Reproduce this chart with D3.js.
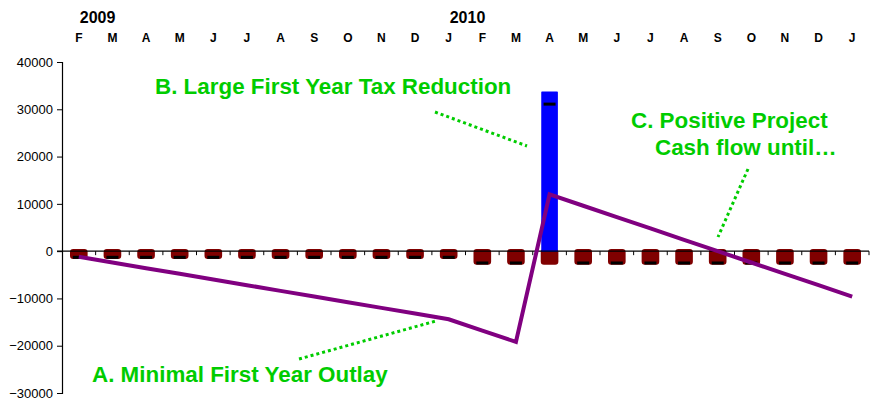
<!DOCTYPE html>
<html>
<head>
<meta charset="utf-8">
<script src="https://cdn.jsdelivr.net/npm/d3@7"></script>
<style>
  html, body { margin: 0; padding: 0; background: #fff; }
  svg { display: block; font-family: "Liberation Sans", Arial, sans-serif; }
</style>
</head>
<body>
<svg id="chart" width="877" height="402"></svg>
<script>
// ---- data ----
const months = ["F","M","A","M","J","J","A","S","O","N","D","J","F","M","A","M","J","J","A","S","O","N","D","J"];
const yearLabels = ["2009", "2010"];
const yearStartIndex = [0, 11];
const monthlyCost = [-1200,-1200,-1200,-1200,-1200,-1200,-1200,-1200,-1200,-1200,-1200,-1200,
                     -2400,-2400,-2400,-2400,-2400,-2400,-2400,-2400,-2400,-2400,-2400,-2400];
const taxReduction = [0,0,0,0,0,0,0,0,0,0,0,0,0,0,33600,0,0,0,0,0,0,0,0,0];
const netCashFlow = [-1200,-1200,-1200,-1200,-1200,-1200,-1200,-1200,-1200,-1200,-1200,-1200,
                     -2400,-2400,31200,-2400,-2400,-2400,-2400,-2400,-2400,-2400,-2400,-2400];
const cumulative = [-1200,-2400,-3600,-4800,-6000,-7200,-8400,-9600,-10800,-12000,-13200,-14400,
                    -16800,-19200,12000,9600,7200,4800,2400,0,-2400,-4800,-7200,-9600];
const yTicks = [40000,30000,20000,10000,0,-10000,-20000,-30000];

(function () {
// ---- layout ----
const svg = d3.select("#chart");
const mLeft = 62, mRight = 869, mTop = 62, mBottom = 393;
const idx = d3.range(months.length);
const x = d3.scaleBand().domain(idx).range([mLeft, mRight]).paddingInner(0).paddingOuter(0);
const y = d3.scaleLinear().domain([-30000, 40000]).range([mBottom, mTop]);
const bw = x.bandwidth() * 0.45;
const cx = i => x(i) + x.bandwidth() / 2;

// red cost bars
svg.append("g").selectAll("rect").data(idx).join("rect")
  .attr("x", i => cx(i) - bw / 2)
  .attr("y", i => y(0) - 1)
  .attr("width", bw)
  .attr("height", i => y(monthlyCost[i]) - y(0) + 2)
  .attr("rx", 2)
  .attr("fill", "#800000")
  .attr("stroke", "#800000")
  .attr("stroke-width", 2.5)
  .attr("stroke-linejoin", "round");

// blue tax reduction bars
svg.append("g").selectAll("rect").data(idx.filter(i => taxReduction[i] > 0)).join("rect")
  .attr("x", i => cx(i) - bw / 2)
  .attr("y", i => y(taxReduction[i]))
  .attr("width", bw)
  .attr("height", i => y(0) - y(taxReduction[i]))
  .attr("fill", "#0000ff")
  .attr("stroke", "#0000ff")
  .attr("stroke-width", 1.5)
  .attr("stroke-linejoin", "round");

// x axis (zero line) with ticks between categories
const axisG = svg.append("g");
axisG.append("line")
  .attr("x1", mLeft - 5).attr("x2", mRight)
  .attr("y1", y(0)).attr("y2", y(0))
  .attr("stroke", "#000").attr("stroke-width", 1.2);
axisG.selectAll("line.tk").data(d3.range(1, months.length + 1)).join("line")
  .attr("class", "tk")
  .attr("x1", i => x.step() * i + mLeft).attr("x2", i => x.step() * i + mLeft)
  .attr("y1", y(0)).attr("y2", y(0) + 4)
  .attr("stroke", "#000").attr("stroke-width", 1);

// net cash flow markers (black dashes)
svg.append("g").selectAll("rect").data(idx).join("rect")
  .attr("x", i => cx(i) - 6)
  .attr("y", i => y(netCashFlow[i]) - 1)
  .attr("width", 12)
  .attr("height", 3)
  .attr("fill", "#000");

// cumulative line
svg.append("path")
  .datum(idx)
  .attr("fill", "none")
  .attr("stroke", "#800080")
  .attr("stroke-width", 4)
  .attr("stroke-linejoin", "miter")
  .attr("d", d3.line().x(i => cx(i)).y(i => y(cumulative[i])));

// y axis
const yAxis = d3.axisLeft(y).tickValues(yTicks).tickSize(5).tickPadding(4).tickFormat(d3.format("d"));
const ya = svg.append("g").attr("transform", `translate(${mLeft},0)`).call(yAxis);
ya.select(".domain").attr("stroke", "#000").attr("stroke-width", 1.2);
ya.selectAll(".tick line").attr("stroke", "#000");
ya.selectAll(".tick text").attr("font-size", 13).attr("fill", "#000")
  .attr("font-family", "'Liberation Sans', Arial, sans-serif");

// top month labels
svg.append("g").selectAll("text").data(idx).join("text")
  .attr("x", i => cx(i))
  .attr("y", 42)
  .attr("text-anchor", "middle")
  .attr("font-size", 12)
  .attr("font-weight", "bold")
  .attr("fill", "#000")
  .text(i => months[i]);

// year labels
svg.append("g").selectAll("text").data(yearLabels).join("text")
  .attr("x", (d, k) => cx(yearStartIndex[k]) + 1)
  .attr("y", 23)
  .attr("font-size", 16)
  .attr("font-weight", "bold")
  .attr("fill", "#000")
  .text(d => d);

// annotations
const green = "#00cc00";
const ann = svg.append("g").attr("fill", green).attr("font-weight", "bold").attr("font-size", 22.4);
ann.append("text").attr("x", 155).attr("y", 94).text("B. Large First Year Tax Reduction");
ann.append("text").attr("x", 631).attr("y", 128).text("C. Positive Project");
ann.append("text").attr("x", 655).attr("y", 155).text("Cash flow until…");
ann.append("text").attr("x", 92).attr("y", 382).text("A. Minimal First Year Outlay");

const leaders = [
  [435, 112, 527, 146],
  [748, 169, 718, 237],
  [299, 359, 436, 321]
];
svg.append("g").selectAll("line").data(leaders).join("line")
  .attr("x1", d => d[0]).attr("y1", d => d[1])
  .attr("x2", d => d[2]).attr("y2", d => d[3])
  .attr("stroke", green).attr("stroke-width", 3)
  .attr("stroke-dasharray", "3 3");
})();
</script>
</body>
</html>
